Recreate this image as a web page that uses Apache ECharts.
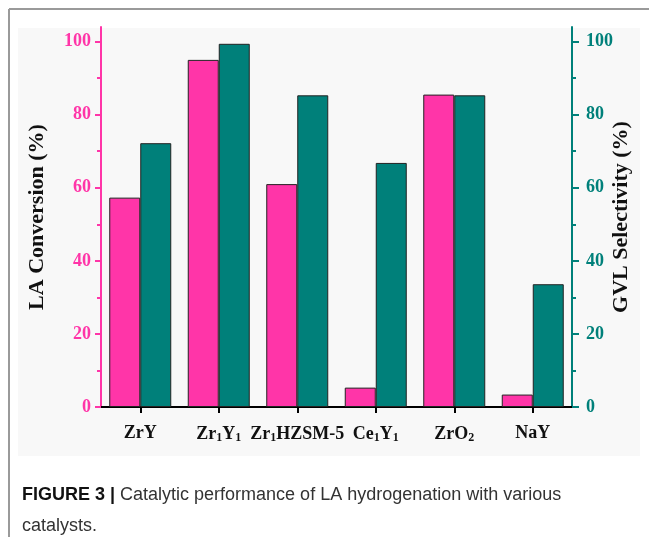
<!DOCTYPE html>
<html>
<head>
<meta charset="utf-8">
<script src="https://cdn.jsdelivr.net/npm/echarts@6/dist/echarts.min.js"></script>
<style>
  html, body { margin: 0; padding: 0; background: #fff; }
  #chart { width: 649px; height: 537px; }
</style>
</head>
<body>
<div id="chart"></div>
<script>
// Catalysts on the x axis (rich-text markup gives the subscripts)
const catalysts = ['ZrY', 'Zr{s|1}Y{s|1}', 'Zr{s|1}HZSM-5', 'Ce{s|1}Y{s|1}', 'ZrO{s|2}', 'NaY'];
// LA conversion (%), left axis
const laConversion = [57.3, 95.0, 61.0, 5.3, 85.5, 3.4];
// GVL selectivity (%), right axis
const gvlSelectivity = [72.2, 99.4, 85.3, 66.8, 85.3, 33.6];
// Axis tick values
const majorTicks = [0, 20, 40, 60, 80, 100];
const minorTicks = [10, 30, 50, 70, 90];

const PINK = '#ff35a8';
const TEAL = '#00807a';
const SERIF = '"Liberation Serif", "Times New Roman", serif';
const SANS = '"Liberation Sans", Arial, sans-serif';

const chart = echarts.init(document.getElementById('chart'), null, { renderer: 'canvas' });

function valueAxis(pos, color, showLine, ticks, tickLen, labels, name, nameGap) {
  return {
    type: 'value',
    position: pos,
    min: 0,
    max: 104,
    interval: 10,
    name: name || '',
    nameLocation: 'middle',
    nameGap: nameGap || 0,
    nameRotate: 90,
    nameMoveOverlap: false,
    nameTextStyle: { fontFamily: SERIF, fontWeight: 'bold', fontSize: 22, color: '#111' },
    axisLine: { show: showLine, onZero: false, lineStyle: { color: color, width: 2 } },
    axisTick: { show: true, length: tickLen, customValues: ticks, lineStyle: { color: color, width: 2 } },
    axisLabel: labels ? {
      show: true, customValues: labels, margin: pos === 'left' ? 10 : 14,
      color: color, fontFamily: SERIF, fontWeight: 'bold', fontSize: 18
    } : { show: false },
    splitLine: { show: false }
  };
}

const option = {
  backgroundColor: '#ffffff',
  animation: false,
  graphic: [
    // figure panel frame (top and left edges)
    { type: 'line', shape: { x1: 9, y1: 9, x2: 649, y2: 9 }, style: { stroke: '#9a9a9a', lineWidth: 2 }, z: 0 },
    { type: 'line', shape: { x1: 9, y1: 9, x2: 9, y2: 537 }, style: { stroke: '#9a9a9a', lineWidth: 2 }, z: 0 },
    // light backdrop behind the chart image
    { type: 'rect', shape: { x: 18, y: 28, width: 622, height: 428 }, style: { fill: '#f8f8f8' }, z: -10 },
    {
      type: 'text', x: 22, y: 480, z: 5,
      style: {
        text: '{b|FIGURE 3 |} Catalytic performance of LA hydrogenation with various\ncatalysts.',
        font: '18px ' + SANS,
        fill: '#333',
        lineHeight: 31,
        rich: {
          b: { fontWeight: 'bold', fontSize: 18, fill: '#111', fontFamily: SANS, lineHeight: 31 }
        }
      }
    }
  ],
  grid: { left: 101, right: 77, top: 27, bottom: 130, containLabel: false, outerBoundsMode: 'none' },
  xAxis: [
    {
      type: 'category',
      data: catalysts,
      position: 'bottom',
      axisLine: { show: true, lineStyle: { color: '#000', width: 2 } },
      axisTick: { show: true, alignWithLabel: true, length: 6, lineStyle: { color: '#000', width: 2 } },
      axisLabel: {
        margin: 17,
        interval: 0,
        color: '#111',
        fontFamily: SERIF, fontWeight: 'bold', fontSize: 18,
        rich: {
          s: { fontFamily: SERIF, fontWeight: 'bold', fontSize: 12, color: '#111', padding: [8, 0, 0, 0] }
        }
      }
    },
    {
      type: 'category',
      data: catalysts,
      position: 'top',
      axisLine: { show: true, lineStyle: { color: '#000', width: 2 } },
      axisTick: { show: false },
      axisLabel: { show: false }
    }
  ],
  yAxis: [
    valueAxis('left', PINK, true, majorTicks, 6, majorTicks, 'LA Conversion (%)', 53),
    valueAxis('right', TEAL, true, majorTicks, 7, majorTicks, 'GVL Selectivity (%)', 38),
    valueAxis('left', PINK, false, minorTicks, 4, null),
    valueAxis('right', TEAL, false, minorTicks, 4, null)
  ],
  series: [
    {
      type: 'bar', name: 'LA Conversion', xAxisIndex: 0, yAxisIndex: 0,
      data: laConversion, barWidth: 31, barGap: '0%',
      itemStyle: { color: PINK, borderColor: '#222', borderWidth: 1 }
    },
    {
      type: 'bar', name: 'GVL Selectivity', xAxisIndex: 0, yAxisIndex: 1,
      data: gvlSelectivity, barWidth: 31, barGap: '0%',
      itemStyle: { color: TEAL, borderColor: '#222', borderWidth: 1 }
    }
  ]
};

chart.setOption(option);
</script>
</body>
</html>
